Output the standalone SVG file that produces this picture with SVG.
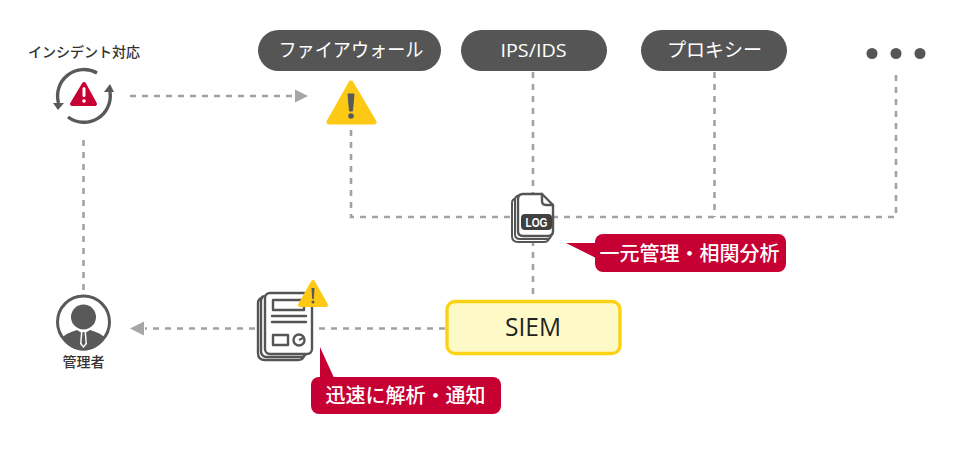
<svg xmlns="http://www.w3.org/2000/svg" width="960" height="456" viewBox="0 0 960 456">
<style>
.c{fill:none;stroke:#a3a3a3;stroke-width:2.6;stroke-dasharray:6 6}
.pill{fill:#555}
.pt{font-family:"Noto Sans CJK JP","Noto Sans",sans-serif;font-size:19px;fill:#fff;text-anchor:middle}
.rt{font-family:"Noto Sans CJK JP",sans-serif;font-size:20px;font-weight:500;fill:#fff;text-anchor:middle}
.lb{font-family:"Noto Sans CJK JP",sans-serif;font-size:14px;font-weight:500;fill:#333;text-anchor:middle}
.red{fill:#c70033}
.yel{fill:#fdc915}
.ln{fill:none;stroke:#555;stroke-width:2.4;stroke-linejoin:round;stroke-linecap:round}
</style>
<rect width="960" height="456" fill="#fff"/>
<g id="connectors">
<path class="c" d="M130 96H296"/>
<polygon points="295,89.500 308,96 295,102.500" fill="#a6a6a6"/>
<path class="c" d="M351 130V217H896V72"/>
<path class="c" d="M533 72V300"/>
<path class="c" d="M714.500 72V217"/>
<path class="c" d="M83.500 140V296"/>
<path class="c" d="M445 328.500H315M255 328.500H145"/>
<polygon points="144,321.500 130,328.500 144,335.500" fill="#a6a6a6"/>
</g>
<g id="firewall"><rect class="pill" x="258" y="30" width="183" height="41" rx="20.500"/><text class="pt" x="351" y="57" textLength="145" lengthAdjust="spacingAndGlyphs">ファイアウォール</text></g>
<g id="ips"><rect class="pill" x="461" y="30" width="146" height="41" rx="20.500"/><text class="pt" x="533.500" y="57" textLength="66" lengthAdjust="spacingAndGlyphs" style="font-family:'Open Sans',sans-serif;font-size:19px">IPS/IDS</text></g>
<g id="proxy"><rect class="pill" x="641" y="30" width="146" height="41" rx="20.500"/><text class="pt" x="714.500" y="57">プロキシー</text></g>
<g id="more" fill="#555"><circle cx="872" cy="53.500" r="5.500"/><circle cx="896" cy="53.500" r="5.500"/><circle cx="920" cy="53.500" r="5.500"/></g>
<g id="incident">
<text class="lb" x="84" y="57">インシデント対応</text>
<path d="M58.500 103A26.400 26.400 0 0 1 97 73" fill="none" stroke="#595959" stroke-width="3.400"/>
<path d="M110 92A26.400 26.400 0 0 1 68 117" fill="none" stroke="#595959" stroke-width="3.400"/>
<polygon points="53,103 64,103 58,110" fill="#595959"/>
<polygon points="104,92 114,92 110,84" fill="#595959"/>
<path d="M84 84L95 104H72Z" class="red" stroke="#c70033" stroke-width="4" stroke-linejoin="round"/>
<rect x="82.500" y="87" width="3" height="10" rx="1.500" fill="#fff"/><circle cx="84" cy="101" r="1.800" fill="#fff"/>
</g>
<g id="alert">
<path d="M351 83L374 122H329Z" class="yel" stroke="#fdc915" stroke-width="5" stroke-linejoin="round"/>
<path d="M348 94h6l-1.500 17h-3Z" fill="#595959" stroke="#595959" stroke-width="1" stroke-linejoin="round"/><circle cx="351" cy="116" r="2.800" fill="#595959"/>
</g>
<g id="log">
<path d="M516 198.500Q512 199 512 203V236Q512 242 518 242H544Q548 242 549 239" fill="#fff" stroke="#555" stroke-width="2"/>
<path d="M519 195.500Q515 196 515 200V234Q515 239 520 239H547Q551 239 551 235" fill="#fff" stroke="#555" stroke-width="2"/>
<path class="ln" style="fill:#fff" d="M542 194H523Q518 194 518 199V231Q518 236 523 236H548Q553 236 553 231V205Z"/>
<path class="ln" d="M542 194V201Q542 205 546 205H553"/>
<rect x="521" y="214" width="31" height="16" rx="4" fill="#404040"/>
<text x="536.500" y="226.500" text-anchor="middle" textLength="22" lengthAdjust="spacingAndGlyphs" style="font-family:'Liberation Sans',sans-serif;font-weight:700;font-size:13px;fill:#fff">LOG</text>
</g>
<g id="callout-top">
<polygon class="red" points="566,243 600,243 600,260"/>
<rect class="red" x="595" y="234" width="191" height="38" rx="8"/>
<text class="rt" x="689.500" y="260.500">一元管理・相関分析</text>
</g>
<g id="siem">
<rect x="447" y="301.500" width="173" height="52" rx="8" fill="#fefac8" stroke="#fcd214" stroke-width="3.400"/>
<text x="533" y="336" text-anchor="middle" textLength="56" lengthAdjust="spacingAndGlyphs" style="font-family:'Open Sans',sans-serif;font-size:26px;fill:#222">SIEM</text>
</g>
<g id="report">
<path class="ln" d="M262 298Q258 299 258 303V353Q258 360 265 360H298Q303 360 304 356"/>
<path class="ln" d="M265 296Q261 296 261 301V351Q261 357 267 357H301Q305 357 306 353"/>
<rect class="ln" x="265" y="293" width="47" height="61" rx="5" style="fill:#fff"/>
<rect class="ln" x="273" y="300" width="31" height="10"/>
<path class="ln" d="M272 316H306M272 322H306"/>
<rect class="ln" x="273" y="335" width="15" height="10"/>
<circle class="ln" cx="299" cy="340" r="5.500"/>
<path d="M299 340l4-2" stroke="#555" stroke-width="2"/>
<path d="M313 282L326 305H300Z" class="yel" stroke="#fdc915" stroke-width="4" stroke-linejoin="round"/>
<path d="M311.500 288h3l-.7 11h-1.600Z" fill="#595959"/><circle cx="313" cy="302" r="1.500" fill="#595959"/>
</g>
<g id="callout-bottom">
<polygon class="red" points="320,347 320,380 335,380"/>
<rect class="red" x="311" y="377" width="190" height="37" rx="8"/>
<text class="rt" x="405.500" y="403">迅速に解析・通知</text>
</g>
<g id="admin">
<circle cx="83.500" cy="322" r="26" fill="#fff" stroke="#595959" stroke-width="3"/>
<circle cx="83.500" cy="317" r="12.500" fill="#595959"/>
<path d="M62 338Q66 333 77 330L83.500 334L90 330Q101 333 105 338A24.500 24.500 0 0 1 62 338Z" fill="#595959"/>
<path d="M81 332H86L87 344L83.500 348L80 344Z" fill="#fff"/><path d="M82.500 332H84.500L85.500 343L83.500 346L81.500 343Z" fill="#595959"/>
<text class="lb" x="83.500" y="366.500">管理者</text>
</g>
</svg>
